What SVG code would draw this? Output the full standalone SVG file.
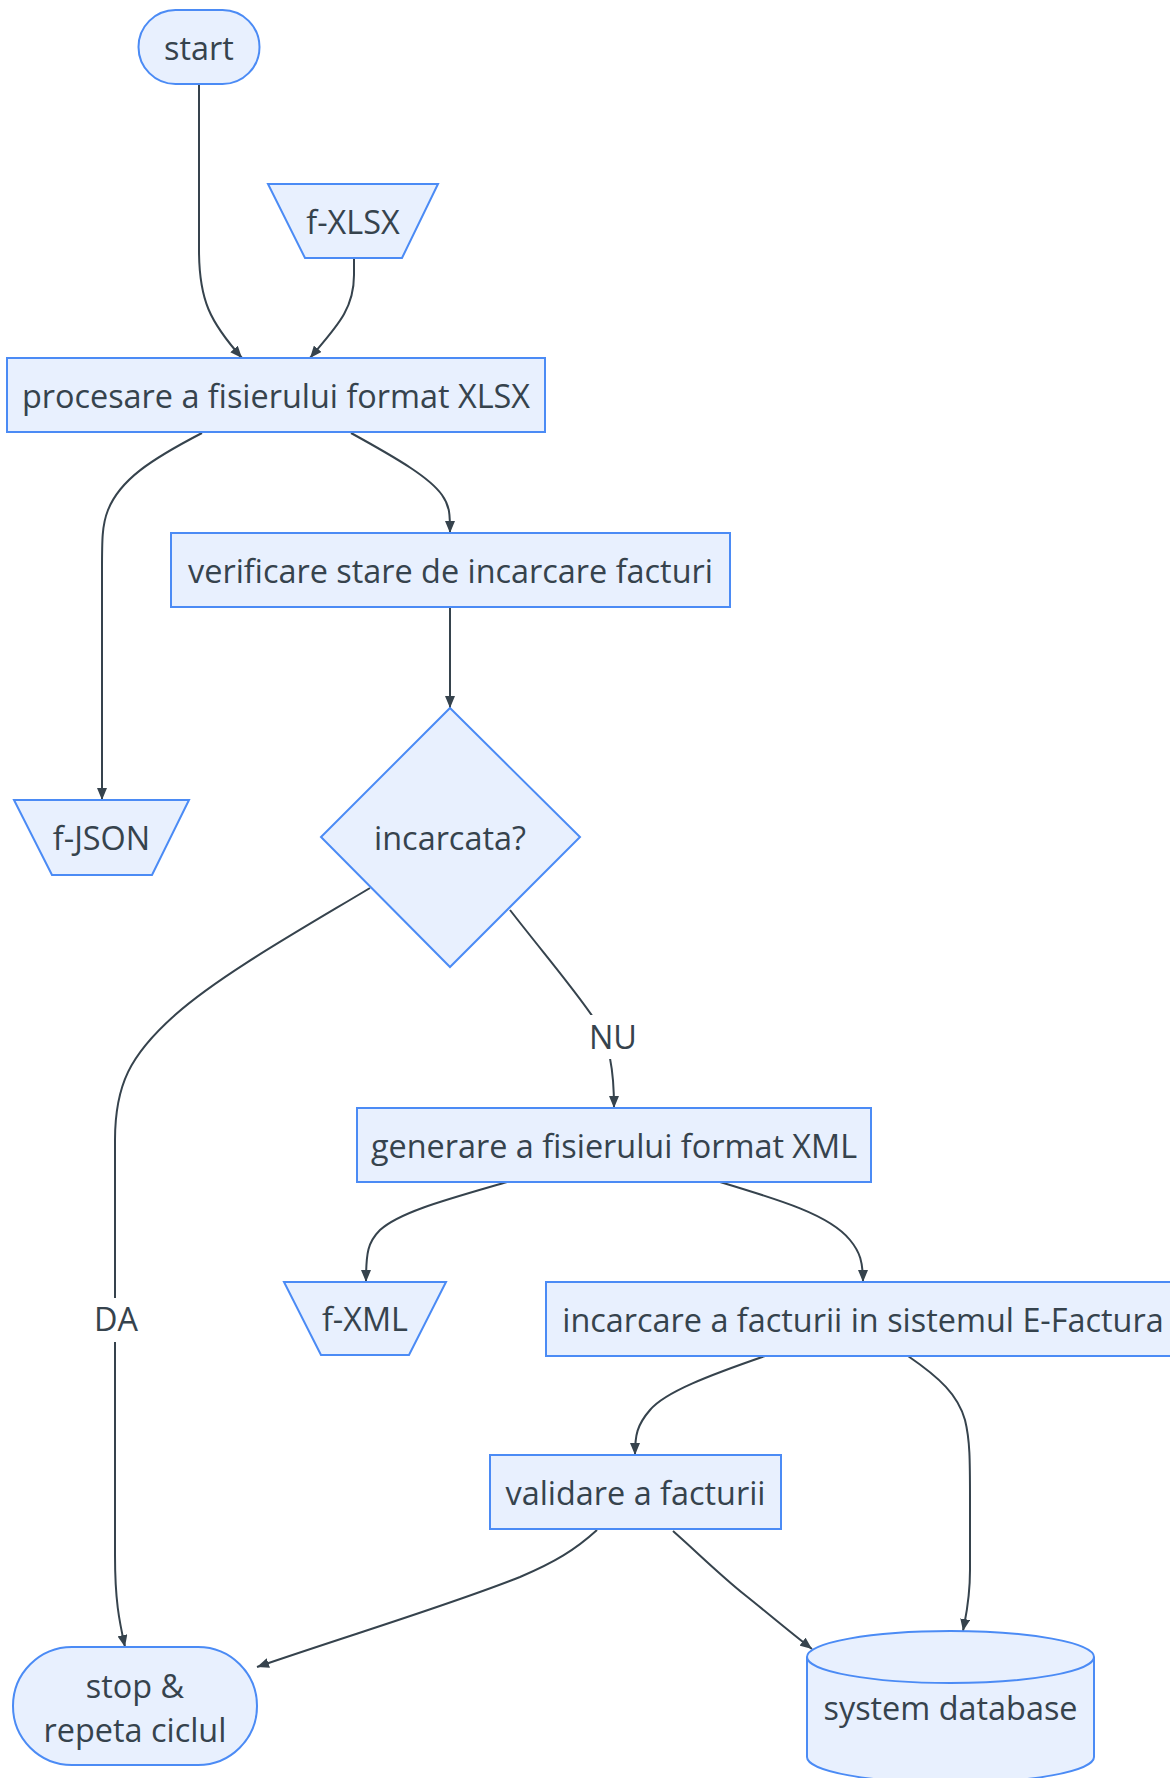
<svg xmlns="http://www.w3.org/2000/svg" width="1170" height="1778" viewBox="0 0 1170 1778">
<defs>
<style>
.node{fill:#E8F0FE;stroke:#4B8BF5;stroke-width:2}
.t{font-family:"Open Sans","Noto Sans","Liberation Sans",sans-serif;font-size:32.4px;fill:#36434D;text-anchor:middle}
.e{fill:none;stroke:#36434D;stroke-width:2}
.lbg{fill:#ffffff}
</style>
<marker id="arr" viewBox="0 0 12 10" refX="12" refY="5" markerWidth="12" markerHeight="10" markerUnits="userSpaceOnUse" orient="auto">
<path d="M0,0 L12,5 L0,10 z" fill="#36434D"/>
</marker>
</defs>
<rect width="1170" height="1778" fill="#ffffff"/>
<g id="connectors">
<path class="e" marker-end="url(#arr)" d="M199,84 V250 C199,300 210,322 242,358"/>
<path class="e" marker-end="url(#arr)" d="M354,258 V275 C354,310 336,327 310,358"/>
<path class="e" marker-end="url(#arr)" d="M202,433 C150,460 120,480 108,510 C102,525 102,540 102,570 V800"/>
<path class="e" marker-end="url(#arr)" d="M351,433 C400,460 430,478 442,495 C450,506 450,515 450,533"/>
<path class="e" marker-end="url(#arr)" d="M450,608 V708"/>
<path class="e" marker-end="url(#arr)" d="M370,888 C300,930 220,975 175,1015 C130,1055 115,1085 115,1140 V1555 C115,1600 119,1620 125,1647"/>
<path class="e" marker-end="url(#arr)" d="M510,910 C545,955 575,990 595,1020 C610,1045 614,1070 614,1108"/>
<path class="e" marker-end="url(#arr)" d="M507,1182 C445,1200 400,1212 380,1230 C368,1242 366,1252 366,1282"/>
<path class="e" marker-end="url(#arr)" d="M720,1182 C780,1200 830,1215 850,1240 C860,1252 863,1262 863,1282"/>
<path class="e" marker-end="url(#arr)" d="M765,1356 C710,1375 665,1392 650,1410 C637,1425 635,1435 635,1455"/>
<path class="e" marker-end="url(#arr)" d="M908,1356 C940,1378 958,1395 965,1420 C970,1440 970,1460 970,1500 V1570 C970,1600 966,1615 963,1631"/>
<path class="e" marker-end="url(#arr)" d="M673,1531 C700,1555 720,1575 745,1595 C770,1615 790,1632 812,1649"/>
<path class="e" marker-end="url(#arr)" d="M597,1530 C575,1550 555,1562 520,1577 C450,1605 350,1635 257,1667"/>
<rect class="lbg" x="94" y="1298" width="44" height="44"/>
<text class="t" x="116" y="1331">DA</text>
<rect class="lbg" x="589" y="1015" width="48" height="44"/>
<text class="t" x="613" y="1049">NU</text>
</g>
<g id="start">
<rect class="node" x="138.5" y="10" width="121" height="74" rx="37" ry="37"/>
<text class="t" x="199" y="59.5">start</text>
</g>
<g id="fXLSX">
<polygon class="node" points="268,184 438,184 402,258 305,258"/>
<text class="t" x="353" y="233.5">f-XLSX</text>
</g>
<g id="procesare">
<rect class="node" x="7" y="358" width="538" height="74"/>
<text class="t" x="276" y="407.5">procesare a fisierului format XLSX</text>
</g>
<g id="verificare">
<rect class="node" x="171" y="533" width="559" height="74"/>
<text class="t" x="450.5" y="582.5">verificare stare de incarcare facturi</text>
</g>
<g id="fJSON">
<polygon class="node" points="14,800 189,800 152,875 52,875"/>
<text class="t" x="101.5" y="849.5">f-JSON</text>
</g>
<g id="incarcata">
<polygon class="node" points="450,708 580,837 450,967 321,837"/>
<text class="t" x="450" y="849.5">incarcata?</text>
</g>
<g id="generare">
<rect class="node" x="357" y="1108" width="514" height="74"/>
<text class="t" x="614" y="1157.5">generare a fisierului format XML</text>
</g>
<g id="fXML">
<polygon class="node" points="284,1282 446,1282 409,1355 321,1355"/>
<text class="t" x="365" y="1330.5">f-XML</text>
</g>
<g id="incarcare">
<rect class="node" x="546" y="1282" width="634" height="74"/>
<text class="t" x="863" y="1331.5">incarcare a facturii in sistemul E-Factura</text>
</g>
<g id="validare">
<rect class="node" x="490" y="1455" width="291" height="74"/>
<text class="t" x="635.5" y="1504.5">validare a facturii</text>
</g>
<g id="stop">
<rect class="node" x="13" y="1647" width="244" height="118" rx="59" ry="59"/>
<text class="t" x="135" y="1698">stop &amp;</text>
<text class="t" x="135" y="1742">repeta ciclul</text>
</g>
<g id="database">
<path class="node" d="M807,1657 A143.5,26 0 0 1 1094,1657 V1757 A143.5,26 0 0 1 807,1757 Z"/>
<path class="node" style="fill:none" d="M807,1657 A143.5,26 0 0 0 1094,1657"/>
<text class="t" x="950.5" y="1720">system database</text>
</g>
</svg>
